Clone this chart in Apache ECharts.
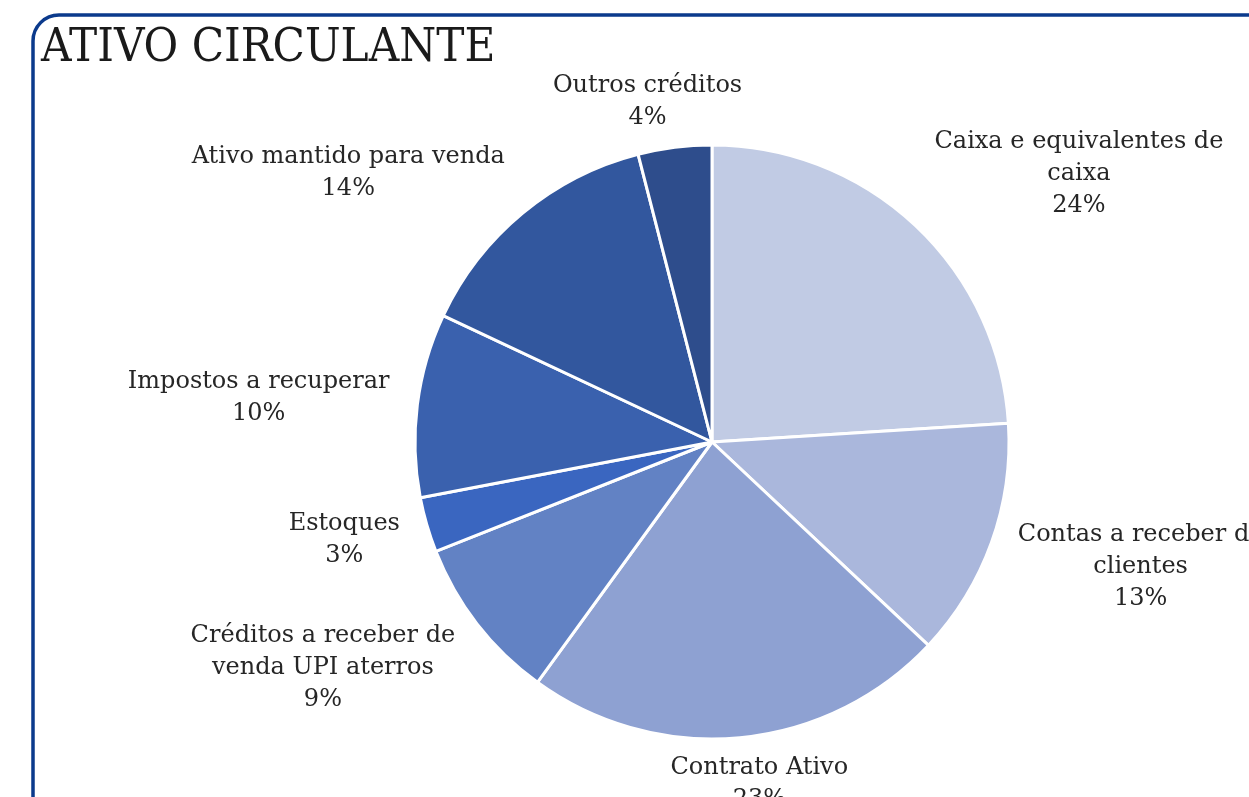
<!DOCTYPE html>
<html>
<head>
<meta charset="utf-8">
<script src="https://cdn.jsdelivr.net/npm/echarts@6/dist/echarts.min.js"></script>
<style>
    html, body { margin: 0; padding: 0; background: #fff; }
    #chart { width: 1249px; height: 797px; }
</style>
</head>
<body>
<div id="chart"></div>
<script>
    // categorias e valores (%), no sentido horario a partir do topo
    var categories = [
        'Caixa e equivalentes de\ncaixa',
        'Contas a receber de\nclientes',
        'Contrato Ativo',
        'Créditos a receber de\nvenda UPI aterros',
        'Estoques',
        'Impostos a recuperar',
        'Ativo mantido para venda',
        'Outros créditos'
    ];
    var values = [24, 13, 23, 9, 3, 10, 14, 4];
    var colors = ['#c1cbe4', '#aab7dc', '#8ea1d2', '#6282c4', '#3a66c0', '#3a61ae', '#32579e', '#2e4d8c'];

    var pieCenter = [712, 442];
    var pieRadius = 297;
    var labelGapX = 28;
    var labelGapY = 14;

    var total = values.reduce(function (a, b) { return a + b; }, 0);

    function clamp1(v) {
        return Math.max(-1, Math.min(1, v));
    }

    var myChart = echarts.init(document.getElementById('chart'));
    var option = {
        backgroundColor: '#fff',
        animation: false,
        title: {
            text: 'ATIVO CIRCULANTE',
            left: 36,
            top: 20,
            textStyle: {
                fontFamily: '"DejaVu Serif Condensed", "DejaVu Serif", serif',
                fontSize: 47,
                fontWeight: 'normal',
                color: '#1a1a1a'
            }
        },
        graphic: [{
            type: 'rect',
            shape: { x: 33, y: 15, width: 1300, height: 900, r: 26 },
            style: { fill: 'none', stroke: '#0b3a8c', lineWidth: 3.5 },
            silent: true
        }],
        series: [{
            type: 'pie',
            center: pieCenter,
            radius: pieRadius,
            startAngle: 90,
            clockwise: true,
            avoidLabelOverlap: false,
            data: categories.map(function (name, i) {
                return { name: name, value: values[i], itemStyle: { color: colors[i] } };
            }),
            itemStyle: { borderColor: '#fff', borderWidth: 3 },
            label: {
                show: true,
                position: 'outside',
                formatter: '{b}\n{d}%',
                fontFamily: '"DejaVu Serif", serif',
                fontSize: 24,
                lineHeight: 32,
                color: '#262626',
                align: 'center'
            },
            labelLine: { show: false },
            // rotulo encostado no ponto medio da fatia, empurrado para fora
            labelLayout: function (params) {
                var i = params.dataIndex;
                var cum = 0;
                for (var k = 0; k < i; k++) cum += values[k];
                var theta = (cum + values[i] / 2) / total * Math.PI * 2;
                var sx = Math.sin(theta), sy = -Math.cos(theta);
                var w = params.labelRect.width / 2, h = params.labelRect.height / 2;
                var px = pieCenter[0] + sx * (pieRadius + labelGapX);
                var py = pieCenter[1] + sy * (pieRadius + labelGapY);
                return {
                    x: px + w * clamp1(2 * sx),
                    y: py + h * clamp1(1.2 * sy),
                    align: 'center',
                    verticalAlign: 'middle'
                };
            }
        }]
    };
    myChart.setOption(option, true);
    window.addEventListener('resize', function () {
        myChart.resize();
    });
</script>
</body>
</html>
